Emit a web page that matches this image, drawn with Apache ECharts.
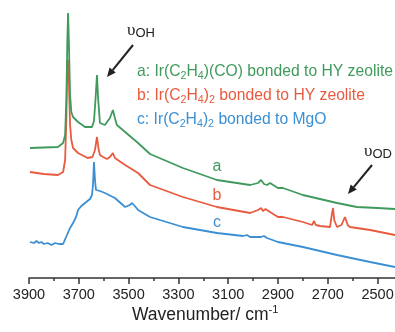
<!DOCTYPE html>
<html>
<head>
<meta charset="utf-8">
<script src="https://cdn.jsdelivr.net/npm/echarts@6/dist/echarts.min.js"></script>
<style>
  html, body { margin: 0; padding: 0; background: #fff; }
  #chart { width: 395px; height: 332px; }
</style>
</head>
<body>
<div id="chart"></div>
<script>
// spectrum a: Ir(C2H4)(CO) on HY zeolite
const waveA = [3896, 3840, 3784, 3763, 3755, 3750, 3746, 3743, 3740, 3735, 3730, 3723, 3703, 3675, 3647, 3639, 3633, 3627, 3622, 3615, 3595, 3575, 3563, 3555, 3547, 3514, 3462, 3414, 3282, 3145, 3012, 2980, 2968, 2956, 2944, 2932, 2900, 2880, 2800, 2663, 2583, 2500, 2430];
const absA  = [1.30, 1.305, 1.31, 1.35, 1.43, 1.78, 2.38, 2.65, 2.38, 1.83, 1.66, 1.61, 1.56, 1.51, 1.51, 1.57, 1.78, 2.03, 1.78, 1.55, 1.53, 1.60, 1.68, 1.60, 1.53, 1.46, 1.35, 1.24, 1.10, 0.98, 0.93, 0.95, 0.98, 0.94, 0.93, 0.95, 0.90, 0.90, 0.83, 0.75, 0.71, 0.70, 0.69];

// spectrum b: Ir(C2H4)2 on HY zeolite
const waveB = [3896, 3840, 3784, 3763, 3755, 3750, 3746, 3743, 3740, 3735, 3730, 3723, 3703, 3665, 3645, 3635, 3627, 3620, 3615, 3603, 3595, 3587, 3575, 3563, 3555, 3547, 3514, 3462, 3414, 3282, 3145, 3012, 2980, 2968, 2960, 2950, 2932, 2900, 2880, 2800, 2763, 2755, 2748, 2731, 2691, 2684, 2679, 2674, 2663, 2645, 2631, 2620, 2611, 2530, 2430];
const absB  = [1.06, 1.04, 1.03, 1.06, 1.18, 1.58, 2.15, 2.18, 1.98, 1.53, 1.38, 1.30, 1.25, 1.20, 1.21, 1.28, 1.41, 1.28, 1.23, 1.21, 1.23, 1.19, 1.21, 1.25, 1.20, 1.18, 1.13, 1.05, 0.93, 0.81, 0.71, 0.65, 0.68, 0.70, 0.67, 0.69, 0.66, 0.61, 0.61, 0.56, 0.53, 0.57, 0.53, 0.52, 0.51, 0.63, 0.70, 0.58, 0.51, 0.53, 0.61, 0.53, 0.51, 0.48, 0.43];

// spectrum c: Ir(C2H4)2 on MgO
const waveC = [3896, 3880, 3870, 3860, 3850, 3840, 3825, 3810, 3795, 3780, 3763, 3751, 3735, 3723, 3711, 3703, 3690, 3675, 3665, 3655, 3647, 3643, 3639, 3635, 3631, 3615, 3595, 3555, 3514, 3495, 3486, 3475, 3462, 3414, 3282, 3145, 3040, 3024, 3012, 2968, 2956, 2944, 2900, 2800, 2663, 2530, 2430];
const absC  = [0.36, 0.35, 0.37, 0.35, 0.36, 0.34, 0.35, 0.33, 0.35, 0.34, 0.34, 0.41, 0.50, 0.55, 0.61, 0.68, 0.72, 0.75, 0.77, 0.79, 0.83, 0.93, 1.16, 0.98, 0.88, 0.87, 0.85, 0.80, 0.71, 0.73, 0.75, 0.72, 0.68, 0.61, 0.51, 0.45, 0.42, 0.43, 0.41, 0.41, 0.42, 0.40, 0.36, 0.31, 0.23, 0.16, 0.11];

// axis ticks
const majorTicks = [3900, 3700, 3500, 3300, 3100, 2900, 2700, 2500];
const minorTicks = [3800, 3600, 3400, 3200, 3000, 2800, 2600];

const seriesNames = ['a', 'b', 'c'];
const legendLines = [
  '{t|a: Ir(C}{s|2}{t|H}{s|4}{t|)(CO) bonded to HY zeolite}',
  '{t|b: Ir(C}{s|2}{t|H}{s|4}{t|)}{s|2}{t| bonded to HY zeolite}',
  '{t|c: Ir(C}{s|2}{t|H}{s|4}{t|)}{s|2}{t| bonded to MgO}'
];

const colors = ['#3f9a5c', '#e95a3e', '#3b8fd2'];
const FONT = 'Liberation Sans, Arial, sans-serif';

const pairs = (xs, ys) => xs.map((x, i) => [x, ys[i]]);
const allData = [pairs(waveA, absA), pairs(waveB, absB), pairs(waveC, absC)];

const chart = echarts.init(document.getElementById('chart'));

const xBase = {
  type: 'value',
  inverse: true,
  min: 2430,
  max: 3900,
  splitLine: { show: false },
  gridIndex: 0,
  position: 'bottom'
};

// graphic text uses zrender style keys (fill, not color)
const richSub = (color, size) => ({
  t: { fontSize: size, lineHeight: 20, fill: color, fontFamily: FONT },
  s: { fontSize: size * 0.68, lineHeight: 8, verticalAlign: 'bottom', fill: color, fontFamily: FONT }
});

const graphics = [];
// legend-like text block
legendLines.forEach((txt, i) => {
  graphics.push({
    type: 'text',
    left: 137,
    top: 64 + i * 24,
    style: { text: txt, rich: richSub(colors[i], 15.7) }
  });
});
// curve letters
[[217, 167], [217, 196], [217, 223]].forEach((p, i) => {
  graphics.push({
    type: 'text',
    x: p[0], y: p[1],
    style: { text: seriesNames[i], fill: colors[i], font: '16px ' + FONT, textAlign: 'center', textVerticalAlign: 'middle' }
  });
});
// nu labels
const nuRich = {
  v: { fontSize: 17, lineHeight: 18, fill: '#222', fontFamily: 'Liberation Serif, serif' },
  s: { fontSize: 13, lineHeight: 8, verticalAlign: 'bottom', fill: '#222', fontFamily: FONT }
};
graphics.push({ type: 'text', left: 127, top: 22, style: { text: '{v|υ}{s|OH}', rich: nuRich } });
graphics.push({ type: 'text', left: 364, top: 143, style: { text: '{v|υ}{s|OD}', rich: nuRich } });
// arrows
const arrow = (x1, y1, x2, y2) => {
  const dx = x2 - x1, dy = y2 - y1, L = Math.hypot(dx, dy);
  const ux = dx / L, uy = dy / L, h = 9, w = 4;
  const bx = x2 - h * ux, by = y2 - h * uy;
  graphics.push({ type: 'line', shape: { x1, y1, x2: bx, y2: by }, style: { stroke: '#222', lineWidth: 2 } });
  graphics.push({ type: 'polygon', shape: { points: [[x2, y2], [bx - w * uy, by + w * ux], [bx + w * uy, by - w * ux]] }, style: { fill: '#222' } });
};
arrow(133, 45, 107, 77);
arrow(372, 165, 348, 194);
// axis title
graphics.push({
  type: 'text',
  left: 132,
  top: 304,
  style: {
    text: '{n|Wavenumber/ cm}{p|-1}',
    rich: {
      n: { fontSize: 17.5, lineHeight: 22, fill: '#222', fontFamily: FONT },
      p: { fontSize: 11, lineHeight: 10, verticalAlign: 'top', fill: '#222', fontFamily: FONT }
    }
  }
});

const option = {
  animation: false,
  grid: { left: 29, right: 0, top: 13, bottom: 54, outerBoundsMode: 'none', containLabel: false },
  xAxis: [
    Object.assign({}, xBase, {
      axisLine: { lineStyle: { color: '#333', width: 1.5 } },
      axisTick: { customValues: majorTicks, length: 6, lineStyle: { color: '#333', width: 1.5 } },
      axisLabel: { customValues: majorTicks, fontSize: 14.5, color: '#222', fontFamily: FONT, margin: 9, formatter: v => String(v) }
    }),
    Object.assign({}, xBase, {
      axisLine: { show: false },
      axisTick: { customValues: minorTicks, length: 3, lineStyle: { color: '#333', width: 1.5 } },
      axisLabel: { show: false }
    })
  ],
  yAxis: { type: 'value', min: 0, max: 2.65, show: false },
  series: allData.map((d, i) => ({
    name: seriesNames[i],
    type: 'line',
    data: d,
    symbol: 'none',
    lineStyle: { color: colors[i], width: 1.8 },
    z: 3 - i
  })),
  graphic: graphics
};

chart.setOption(option);
</script>
</body>
</html>
